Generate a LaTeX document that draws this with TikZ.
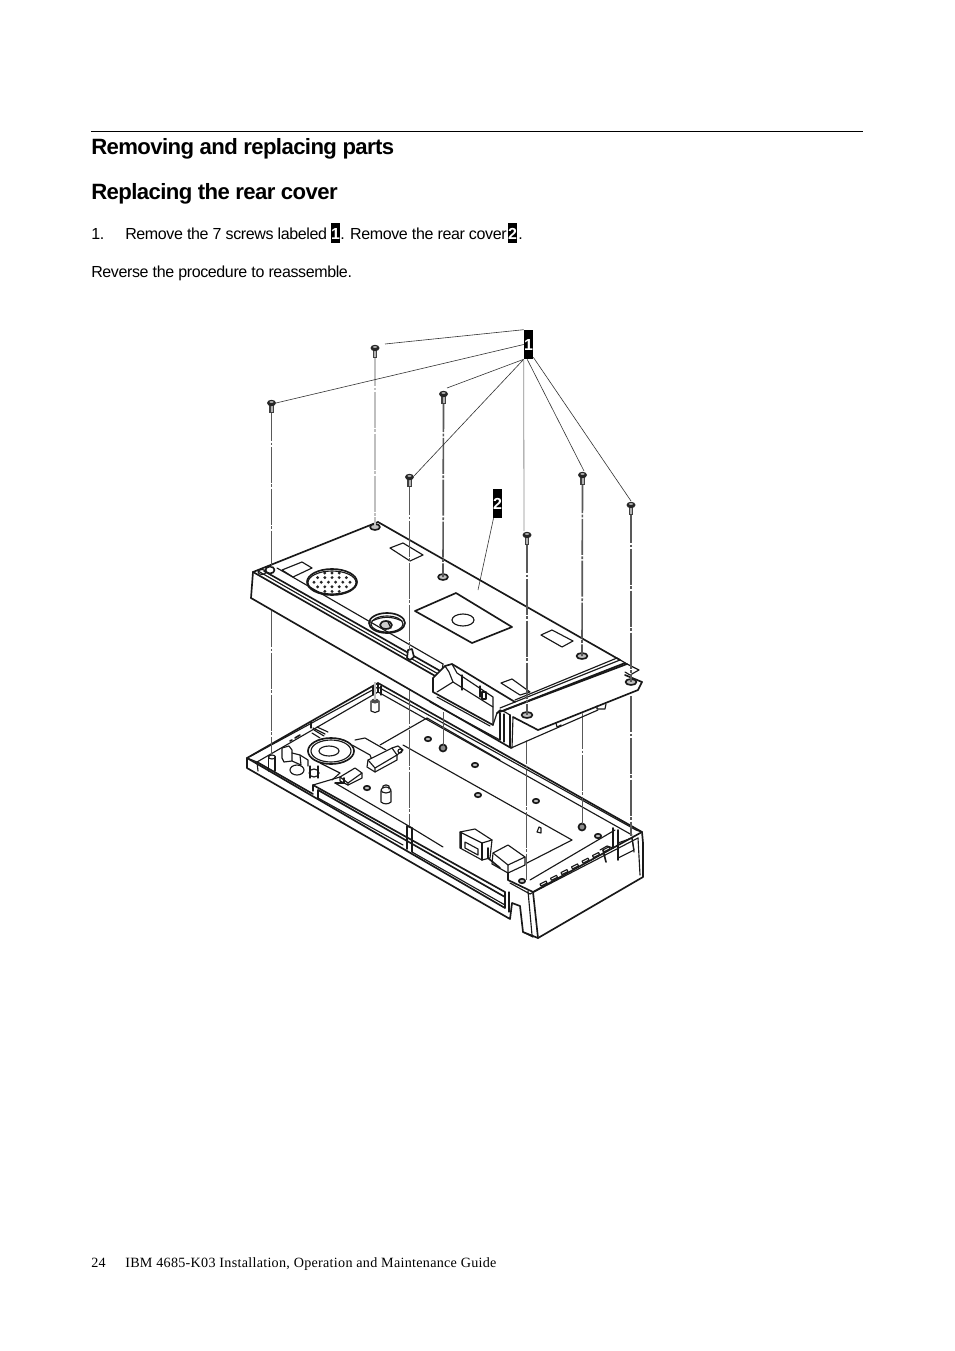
\documentclass[tikz,border=0pt]{standalone}
\usepackage{fontspec}
\setmainfont{Liberation Sans}
\newfontfamily\footfont[LetterSpace=2]{Liberation Serif}
\newfontfamily\headfont[LetterSpace=-2.7]{Liberation Sans}
\newfontfamily\bodyfont[LetterSpace=-2.3]{Liberation Sans}
\tikzset{
  ln/.style={line width=0.85pt,draw=black!90,line join=round,line cap=round},
  thk/.style={line width=1.25pt,draw=black!90,line join=round,line cap=round},
  lead/.style={line width=0.45pt,draw=black!80},
  axis/.style={line width=1.25pt,draw=black!65,dash pattern=on 27pt off 1.2pt on 2pt off 1.2pt},
  axisgray/.style={line width=1.8pt,draw=black!25,dash pattern=on 27pt off 1.2pt on 2pt off 1.2pt},
  head/.style={font=\headfont\fontsize{16.6pt}{18pt}\bfseries\selectfont,anchor=base west,inner sep=0pt},
  body/.style={font=\bodyfont\fontsize{12pt}{14pt}\selectfont,anchor=base west,inner sep=0pt},
  foot/.style={font=\footfont\fontsize{10.6pt}{12pt}\selectfont,anchor=base west,inner sep=0pt},
  tag/.style={fill=black,text=white,font=\fontsize{12pt}{14pt}\bfseries\selectfont,inner sep=0pt,text width=6.8pt,align=center,minimum height=21.8pt},
  taginl/.style={fill=black,text=white,font=\fontsize{12pt}{14pt}\bfseries\selectfont,inner sep=0pt,minimum width=6.8pt,minimum height=15pt},
  scr/.pic={
    \fill[black!75] (-2.4,-3) rectangle (2.4,8);
    \fill[black!30] (-1,0) rectangle (1,7);
    \fill[black!85] (0,-2) ellipse (4.5 and 3.2);
    \fill[black!35] (0,-3) ellipse (2 and 1);
  }
}
\begin{document}
\begin{tikzpicture}[x=0.75pt,y=-0.75pt]
\useasboundingbox (0,0) rectangle (954,1351);
\fill[white] (0,0) rectangle (954,1351);
% page text
\draw[line width=0.8pt,black] (91,131.5) coordinate (ruleL) -- (863,131.5) coordinate (ruleR);
\node[head] (h1) at (91,155) {Removing and replacing parts};
\node[head] (h2) at (91,200) {Replacing the rear cover};
\node[body] (n1) at (91,239.5) {1.};
\node[body] (s1) at (125,239.5) {Remove the 7 screws labeled};
\node[taginl] (i1) at (335.5,233.5) {1};
\node[body] (s2) at (340,239.5) {. Remove the rear cover};
\node[taginl] (i2) at (512.5,233.5) {2};
\node[body] (s3) at (518,239.5) {.};
\node[body] (s4) at (91,277.5) {Reverse the procedure to reassemble.};
\node[foot] (pn) at (91,1267) {24};
\node[foot] (ft) at (125,1267) {IBM 4685-K03 Installation, Operation and Maintenance Guide};

%% ---- lower base ----
\draw[thk] (247,758) -- (378,683) -- (642,832) -- (643,843) -- (643,877) -- (538,938) -- (523,932) -- (520,906) -- (512,903) -- (510,919) -- (247,768) -- cycle;
\draw[ln] (247,758) -- (257,762) -- (378,692) -- (632,835);
\draw[ln] (257,762) -- (258,771);
\draw[ln] (251,756) -- (378,687) -- (636,830) -- (642,832);
\draw[thk] (247,758) -- (505,908);
\draw[thk] (257,762) -- (313,794);
\draw[ln] (378,683) -- (378,692);
\draw[ln] (311,722) -- (311,728);
\draw[ln] (373,686) -- (373,695) (381,686) -- (381,695);
% front wall and groove
\draw[thk] (313,785) -- (505,892);
\draw[thk] (318,790) -- (505,897);
\draw[ln] (318,798) -- (403,845);
\draw[ln] (412,852) -- (505,905);
\draw[ln] (505,892) -- (505,908) (509,892) -- (509,912);
\draw[thk] (407,826) -- (407,849);
\draw[ln] (412,828) -- (412,852);
\draw[thk] (407,826) -- (412,828);
\draw[ln] (313,785) -- (313,791) (318,790) -- (318,798);
\draw[ln] (508,880) -- (508,873);
% right corner box
\draw[thk] (508,880) -- (533,892) -- (642,832);
\draw[thk] (533,892) -- (538,938);
\draw[ln] (528,891) -- (532,935);
\draw[ln] (510,883) -- (530,894) -- (638,838);
\draw[ln] (638,838) -- (640,875);
\draw[ln] (632,838) -- (634,852);
\draw[ln] (523,932) -- (533,937);
% LED / button row
\foreach \i in {0,...,6}{
  \draw[ln] ({540+\i*10.5},{884-\i*5.7}) -- ++(6,-3) -- ++(1,2) -- ++(-6,3) -- cycle;
}
\draw[ln] (530,880) -- (615,830);
\draw[thk] (613,828) -- (613,848) (618,830) -- (618,860);
\draw[ln] (618,843) -- (632,838) -- (634,850) -- (618,858);
\draw[ln] (600,850) -- (607,846) -- (613,848);
\draw[thk] (603,850) -- (606,862);
% PCB
\draw[ln] (427,718) -- (380,745);
\draw[ln] (403,745) -- (572,840) -- (527,863);
\draw[ln] (335,783) -- (407,825) -- (443,847);
\draw[ln] (335,783) -- (348,783);
\draw[ln] (313,785) -- (340,777);
\draw[ln] (427,718) -- (500,760);
% connectors on PCB
\draw[ln,fill=white] (460,832) -- (475,829) -- (492,840) -- (490,858) -- (482,860) -- (460,848) -- cycle;
\draw[ln] (460,832) -- (482,843) -- (492,840);
\draw[thk] (461,832) -- (461,848) (482,843) -- (482,860);
\draw[ln] (465,842) -- (478,849) -- (478,855) -- (465,848) -- cycle;
\draw[ln,fill=white] (493,853) -- (508,845) -- (525,857) -- (525,865) -- (508,873) -- (492,864) -- cycle;
\draw[ln] (493,853) -- (508,865) -- (525,857) (508,865) -- (508,873);
\draw[thk] (488,848) -- (488,858) -- (500,868);
% speaker
\draw[thk] (331,751) ellipse (23 and 13);
\draw[ln] (331,751) ellipse (20 and 11);
\draw[ln] (329,751) ellipse (10 and 5);
\draw[ln] (317,727) -- (328,732) (314,730) -- (324,736) (312,733) -- (320,738);
\draw[ln] (313,728) -- (325,734);
\draw[ln] (355,740) -- (365,738) -- (386,750);
\draw[ln] (352,745) -- (370,755) -- (372,760);
% parts left of speaker
\draw[ln] (282,748) -- (289,746) -- (292,750) -- (292,761) -- (284,762) -- (282,758) -- cycle;
\draw[ln] (292,753) -- (300,755) -- (301,765) -- (292,761);
\draw[ln] (300,755) -- (308,760) -- (308,766);
\draw[ln] (297,770) ellipse (7 and 5);
\draw[ln] (314,773) ellipse (5 and 4);
\draw[ln] (310,766) -- (310,778) (318,766) -- (318,778);
\draw[ln] (320,763) -- (340,773) -- (332,780);
\draw[thk] (295,738) -- (300,735) (290,741) -- (292,740);
% connector boxes
\draw[ln,fill=white] (368,760) -- (392,748) -- (397,755) -- (397,760) -- (375,772) -- (367,767) -- cycle;
\draw[ln] (368,760) -- (375,768) -- (397,755) (375,768) -- (375,772);
\draw[ln] (392,748) -- (398,746) -- (403,750) -- (397,755);
\draw[ln] (400,751) circle (2);
\draw[ln,fill=white] (340,777) -- (355,768) -- (362,773) -- (362,778) -- (348,785) -- (340,781) -- cycle;
\draw[ln] (340,777) -- (348,783) -- (362,773) (348,783) -- (348,785);
\draw[thk] (344,778) -- (344,783);
% pillars
\draw[thk] (275,757) -- (275,771);
\draw[thk] (268.5,757) -- (268.5,771);
\draw[ln] (272,757) ellipse (3.5 and 2);
\draw[ln] (371,701) -- (371,711) to[bend right=40] (379,711) -- (379,701);
\fill[black!70] (375,701) ellipse (4 and 2.5);
\draw[ln] (381,791) -- (381,802) to[bend right=40] (391,802) -- (391,791);
\draw[ln] (386,790) ellipse (5 and 3);
\draw[ln] (383,788) -- (383,786) to[bend left=40] (389,786) -- (389,789);
% PCB holes
\foreach \p in {(367,788),(428,739),(475,765),(478,795),(536,801),(598,836),(522,881)}{
  \draw[thk,fill=black!25] \p ellipse (3.2 and 2.2);
}
\draw[ln] (539,827) -- (537,832) -- (541,833) -- (541,828) -- cycle;
\draw[thk,fill=black!45] (443,748) ellipse (3.5 and 3.5);
\draw[thk,fill=black!45] (582,827) ellipse (3.5 and 3.5);

%% ---- axis lines (lower parts) ----
\coordinate (b271) at (271.5,611);   \coordinate (e271) at (271.5,755);
\coordinate (b375) at (375,682);     \coordinate (e375) at (375,700);
\coordinate (b409) at (409.5,688);   \coordinate (e409) at (409.5,826);
\coordinate (b443) at (443.5,712);   \coordinate (e443) at (443.5,746);
\coordinate (b527) at (526.5,728);   \coordinate (e527) at (526.5,880);
\coordinate (b582) at (582.5,713);   \coordinate (e582) at (582.5,824);
\coordinate (b631) at (631,696);     \coordinate (e631) at (631,836);
\draw[axis] (b271) -- (e271);
\draw[axisgray] (b375) -- (e375);
\draw[axis] (b409) -- (e409);
\draw[axis] (b443) -- (e443);
\draw[axis] (b527) -- (e527);
\draw[axis] (b582) -- (e582);
\draw[axis] (b631) -- (e631);

%% ---- rear cover ----
% right flange and lower plate
\fill[white] (513,717) -- (625,675) -- (642,682) -- (638,690) -- (583,713) -- (511,748) -- (500,740) -- cycle;
\draw[thk] (625,675) -- (642,682) -- (638,690) -- (538,730) -- (513,717);
\draw[ln] (511,748) -- (598,710);
\draw[ln] (513,717) -- (512,748);
\draw[ln] (597,706) -- (597,709) -- (605,709) -- (606,704);
\draw[ln] (556,723) -- (557,727) -- (561,725);
% main cover
\fill[white] (378,522) -- (627,664) -- (510,715) -- (511,748) -- (251,598) -- (253,572) -- cycle;
\draw[thk] (378,522) -- (620,660);
\draw[thk] (253,572) -- (378,522);
\draw[thk] (251,598) -- (511,748);
\draw[thk] (253,572) -- (251,598);
% front ridge lines
\draw[thk] (253,572) -- (437,677);
\draw[ln] (258,571) -- (440,675);
\draw[thk] (264,571) -- (442,672);
\draw[ln] (277,568) -- (443,664);
\draw[ln] (443,664) -- (442,672) -- (437,677) -- (433,680);
% notch
\fill[white] (433,678) -- (445,666) -- (452,664) -- (502,697) -- (497,713) -- (493,725) -- (433,692) -- cycle;
\draw[ln] (433,678) -- (433,692);
\draw[thk] (433,678) -- (445,666) -- (452,664) -- (515,702);
\draw[ln] (452,664) -- (457,673) -- (493,697) -- (493,725);
\draw[ln] (445,666) -- (449,672) -- (453,682);
\draw[thk] (433,692) -- (493,725);
\draw[ln] (437,692) -- (453,682) -- (493,707);
\draw[ln] (437,697) -- (490,726);
\draw[ln] (462,675) -- (462,690) (480,686) -- (480,697);
\draw[thk] (482,692) rectangle (486,699);
\draw[ln] (430,702) -- (500,740);
\draw[ln] (493,725) -- (497,713) -- (500,710) -- (505,712) -- (510,715);
\draw[ln] (500,713) -- (500,740) (504,714) -- (504,742);
\draw[thk] (510,715) -- (510,747);
% right flange ridge lines
\draw[thk] (497,713) -- (625,663);
\draw[ln] (500,708) -- (620,660);
\draw[thk] (505,710) -- (627,664);
\draw[ln] (515,700) -- (617,658);
\draw[ln] (627,664) -- (639,670) -- (630,675) -- (625,672);
\draw[ln] (617,658) -- (627,664);
% windows
\draw[ln] (390,548) -- (403,543) -- (423,555) -- (410,561) -- cycle;
\draw[ln] (282,570) -- (302,562) -- (312,568) -- (293,577) -- cycle;
\draw[thk] (415,611) -- (456,593) -- (512,627) -- (472,643) -- cycle;
\draw[ln] (463,620) ellipse (11 and 6);
\draw[ln] (541,635) -- (552,630) -- (573,641) -- (562,647) -- cycle;
\draw[ln] (501,683) -- (512,679) -- (530,692) -- (520,695) -- cycle;
% grille
\draw[thk] (332,582) ellipse (25 and 13);
\draw[ln] (332,582.5) ellipse (24 and 11.5);
\foreach \r/\n in {0/3,1/5,2/6,3/5,4/3}{
  \foreach \i in {1,...,\n}{
    \fill[black!85] ({332-(\n+1)*3.6+\i*7.2},{573+\r*4.6}) circle (1.6);
  }
}
% large recess
\draw[thk] (387,623) ellipse (18 and 10);
\draw[ln] (387,624) ellipse (16 and 8);
\draw[ln] (372,621) to[bend left=25] (402,621);
\draw[thk,fill=black!20] (386,625) ellipse (6 and 4);
\draw[ln] (388,622) -- (391,628);
% corner boss and holes
\draw[ln] (262,572) ellipse (4 and 2.5);
\draw[thk] (270,570) ellipse (4.5 and 3.5);
\draw[thk,fill=black!25] (375,527) coordinate (h375) ellipse (5 and 3);
\draw[thk,fill=black!25] (443,577) coordinate (h443) ellipse (5 and 3);
\draw[thk,fill=black!25] (582,656) coordinate (h582) ellipse (5.5 and 3);
\draw[thk,fill=black!25] (631,682) coordinate (h631) ellipse (5.5 and 3);
\draw[thk,fill=black!25] (527,715) coordinate (h527) ellipse (5.5 and 3);
\draw[thk,fill=white] (407,658) -- (408,650) -- (412,649) -- (414,657) -- (410,660) -- cycle;
\coordinate (h409) at (409.5,650);
\coordinate (h271) at (271.5,567);

%% ---- screws and upper axis lines ----
\path (375,350) coordinate (t375) (271.5,405) coordinate (t271) (443.5,396) coordinate (t443)
      (409.5,479) coordinate (t409) (582.5,477) coordinate (t582) (631,507) coordinate (t631) (527,537) coordinate (t527);
\draw[axis] (t271) -- (h271);
\draw[axisgray] (t375) -- (h375);
\draw[axis] (t443) -- (h443);
\draw[axis] (t409) -- (h409);
\draw[axis] (t582) -- (h582);
\draw[axis] (t631) -- (h631);
\draw[axis] (t527) -- (h527);
\foreach \c in {t271,t375,t443,t409,t582,t631,t527}{ \pic at (\c) {scr}; }

%% ---- callouts ----
\node[tag] (tag1) at (528.5,344.5) {1};
\node[tag] (tag2) at (497.5,503.5) {2};
\coordinate (q1) at (385,344);
\coordinate (q2) at (276,403);
\coordinate (q3) at (447,388);
\coordinate (q4) at (414,476);
\coordinate (q5) at (584,471);
\coordinate (q6) at (631,501);
\coordinate (q7) at (524,531);
\coordinate (q8) at (478,590);
\draw[lead] (tag1.north west) -- (q1);
\draw[lead] (tag1.west) -- (q2);
\draw[lead] (tag1.south west) -- (q3);
\draw[lead] (tag1.south west) -- (q4);
\draw[lead] ([xshift=-1pt]tag1.south) -- (q5);
\draw[lead] ([yshift=1.5pt]tag1.south east) -- (q6);
\draw[line width=0.6pt,black!45] (tag1.south west) -- (q7);
\draw[lead] ([xshift=-3pt]tag2.south) -- (q8);
\end{tikzpicture}
\end{document}
